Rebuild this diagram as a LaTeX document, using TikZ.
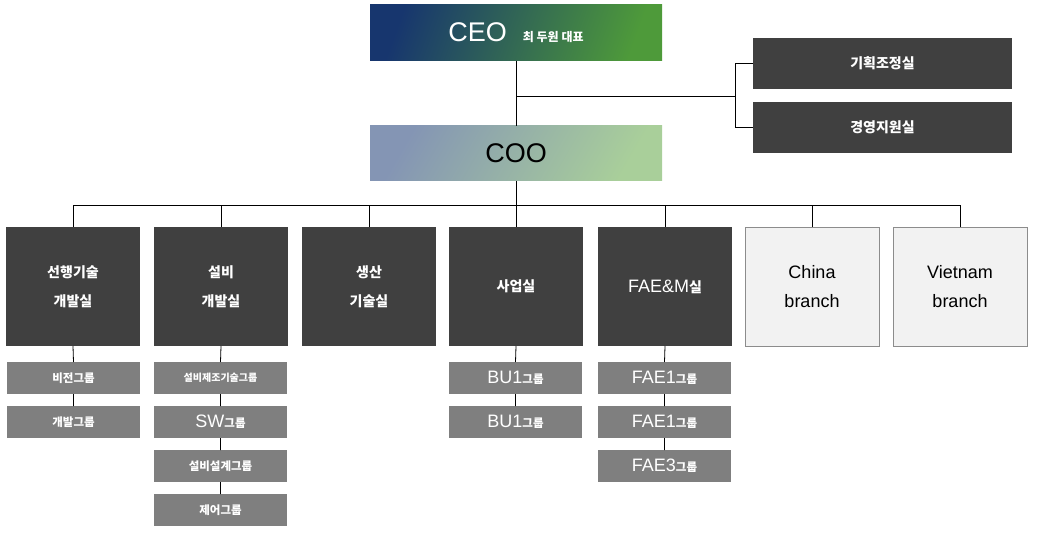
\documentclass[tikz,border=0pt]{standalone}
\usepackage{fontspec}
\setmainfont{Liberation Sans}
\newfontfamily\kr{Noto Sans CJK KR}
\definecolor{deptgray}{HTML}{404040}
\definecolor{subgray}{HTML}{7F7F7F}
\definecolor{brfill}{HTML}{F2F2F2}
\definecolor{brline}{HTML}{8C8C8C}
\definecolor{ceoL}{HTML}{17366E}
\definecolor{ceoR}{HTML}{4E9A3A}
\definecolor{cooL}{HTML}{8495B4}
\definecolor{cooR}{HTML}{A9CF9A}
\newcommand{\lt}[1]{{\rmfamily\mdseries\fontsize{18}{20}\selectfont #1}}
\begin{document}
\begin{tikzpicture}[x=1pt,y=-1pt,
  box/.style={anchor=north west, inner sep=0pt, outer sep=0pt, align=center},
  dept/.style={box, fill=deptgray, text=white, minimum width=134pt, minimum height=119pt,
    font=\kr\bfseries\fontsize{14}{29}\selectfont},
  sidebox/.style={box, fill=deptgray, text=white, minimum width=259pt, minimum height=51pt,
    font=\kr\bfseries\fontsize{14}{16}\selectfont},
  subbox/.style={box, fill=subgray, text=white, minimum width=133pt, minimum height=32pt,
    font=\kr\bfseries\fontsize{11.5}{13}\selectfont},
  branchbox/.style={box, fill=brfill, draw=brline, line width=0.8pt, text=black,
    minimum width=134pt, minimum height=119pt, font=\fontsize{18}{29}\selectfont},
  conn/.style={draw=black, line width=0.8pt}
]
\useasboundingbox (0,0) rectangle (1038,537);
% top
\node[box, minimum width=292pt, minimum height=56pt, left color=ceoL, right color=ceoR, shading angle=70, text=white]
  (ceo) at (370,5) {\fontsize{27}{28}\selectfont CEO\hspace{16pt}{\kr\bfseries\fontsize{12}{12}\selectfont 최 두원 대표}};
\node[box, minimum width=292pt, minimum height=55pt, left color=cooL, right color=cooR, shading angle=60, text=black]
  (coo) at (370,126) {\fontsize{27}{28}\selectfont COO};
\node[sidebox] (r1) at (753,38) {기획조정실};
\node[sidebox] (r2) at (753,102) {경영지원실};
% departments
\node[dept] (d1) at (6,227) {선행기술\\개발실};
\node[dept] (d2) at (154,227) {설비\\개발실};
\node[dept] (d3) at (302,227) {생산\\기술실};
\node[dept] (d4) at (449,227) {사업실};
\node[dept] (d5) at (598,227) {\lt{FAE\&M}실};
\node[branchbox] (d6) at (745,227) {China\\branch};
\node[branchbox] (d7) at (893,227) {Vietnam\\branch};
% sub groups
\node[subbox] (s11) at (7,362) {비전그룹};
\node[subbox] (s12) at (7,406) {개발그룹};
\node[subbox, font=\kr\bfseries\fontsize{10}{11}\selectfont] (s21) at (154,362) {설비제조기술그룹};
\node[subbox] (s22) at (154,406) {\lt{SW}그룹};
\node[subbox] (s23) at (154,450) {설비설계그룹};
\node[subbox] (s24) at (154,494) {제어그룹};
\node[subbox] (s41) at (449,362) {\lt{BU1}그룹};
\node[subbox] (s42) at (449,406) {\lt{BU1}그룹};
\node[subbox] (s51) at (598,362) {\lt{FAE1}그룹};
\node[subbox] (s52) at (598,406) {\lt{FAE1}그룹};
\node[subbox] (s53) at (598,450) {\lt{FAE3}그룹};
% connectors
\coordinate (j1) at (516,96);
\coordinate (br) at (735,96);
\coordinate (bus) at (516,205);
\draw[conn] (ceo.south) -- (coo.north);
\draw[conn] (j1) -- (br);
\draw[conn] (r1.west) -| (br) |- (r2.west);
\draw[conn] (coo.south) -- (bus);
\foreach \d in {d1,d2,d3,d4,d5,d6,d7} { \draw[conn] (\d.north) |- (bus); }
\draw[conn] (d1.south) -- (s11.north) (s11.south) -- (s12.north);
\draw[conn] (d2.south) -- (s21.north) (s21.south) -- (s22.north) (s22.south) -- (s23.north) (s23.south) -- (s24.north);
\draw[conn] (d4.south) -- (s41.north) (s41.south) -- (s42.north);
\draw[conn] (d5.south) -- (s51.north) (s51.south) -- (s52.north) (s52.south) -- (s53.north);
\end{tikzpicture}
\end{document}
